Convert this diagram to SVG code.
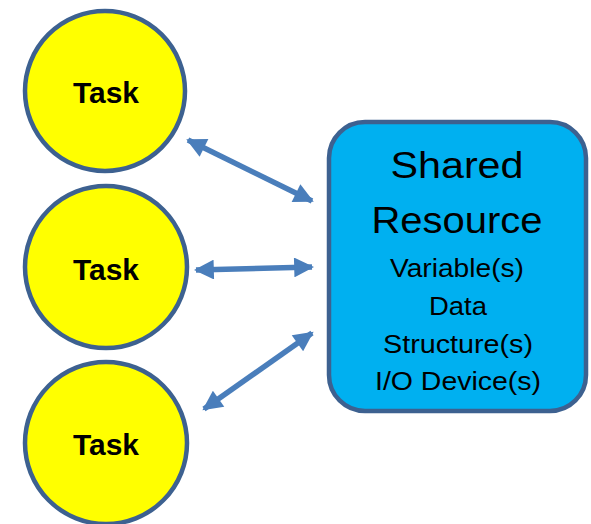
<svg xmlns="http://www.w3.org/2000/svg" width="591" height="524" viewBox="0 0 591 524">
<defs>
<style>
.task circle{fill:#ffff00;stroke:#3d6190;stroke-width:4.5}
.task text{font-family:"Liberation Sans",Arial,sans-serif;font-weight:bold;font-size:30px;fill:#000;text-anchor:middle}
.conn line{stroke:#4a7ebb;stroke-width:5.5;fill:none}
.res text{font-family:"Liberation Sans",Arial,sans-serif;fill:#000;text-anchor:middle}
.big{font-size:37px}
.small{font-size:26px}
</style>
<marker id="ah" viewBox="0 0 10 10" refX="9" refY="5" markerWidth="4" markerHeight="3.6" orient="auto-start-reverse" markerUnits="strokeWidth">
<path d="M0,0 L10,5 L0,10 z" fill="#4a7ebb"/>
</marker>
</defs>
<rect width="591" height="524" fill="#fff"/>
<g id="task1" class="task"><circle cx="105" cy="91" r="80"/><text x="106" y="103" textLength="66" lengthAdjust="spacingAndGlyphs">Task</text></g>
<g id="task2" class="task"><circle cx="106" cy="267" r="81"/><text x="106" y="280" textLength="66" lengthAdjust="spacingAndGlyphs">Task</text></g>
<g id="task3" class="task"><circle cx="106" cy="443" r="81"/><text x="106" y="455" textLength="66" lengthAdjust="spacingAndGlyphs">Task</text></g>
<g id="resource" class="res">
<rect x="329" y="122" width="257" height="289" rx="36" ry="36" fill="#00b0f0" stroke="#3d6190" stroke-width="4.5"/>
<text class="big" x="457" y="178" textLength="133" lengthAdjust="spacingAndGlyphs">Shared</text>
<text class="big" x="457" y="233" textLength="171" lengthAdjust="spacingAndGlyphs">Resource</text>
<text class="small" x="457" y="277" textLength="134" lengthAdjust="spacingAndGlyphs">Variable(s)</text>
<text class="small" x="458" y="315" textLength="58" lengthAdjust="spacingAndGlyphs">Data</text>
<text class="small" x="458" y="353" textLength="150" lengthAdjust="spacingAndGlyphs">Structure(s)</text>
<text class="small" x="458" y="390" textLength="166" lengthAdjust="spacingAndGlyphs">I/O Device(s)</text>
</g>
<g id="connectors" class="conn">
<line x1="188" y1="140" x2="312" y2="201" marker-start="url(#ah)" marker-end="url(#ah)"/>
<line x1="196" y1="270" x2="312" y2="267" marker-start="url(#ah)" marker-end="url(#ah)"/>
<line x1="204" y1="409" x2="312" y2="333" marker-start="url(#ah)" marker-end="url(#ah)"/>
</g>
</svg>
